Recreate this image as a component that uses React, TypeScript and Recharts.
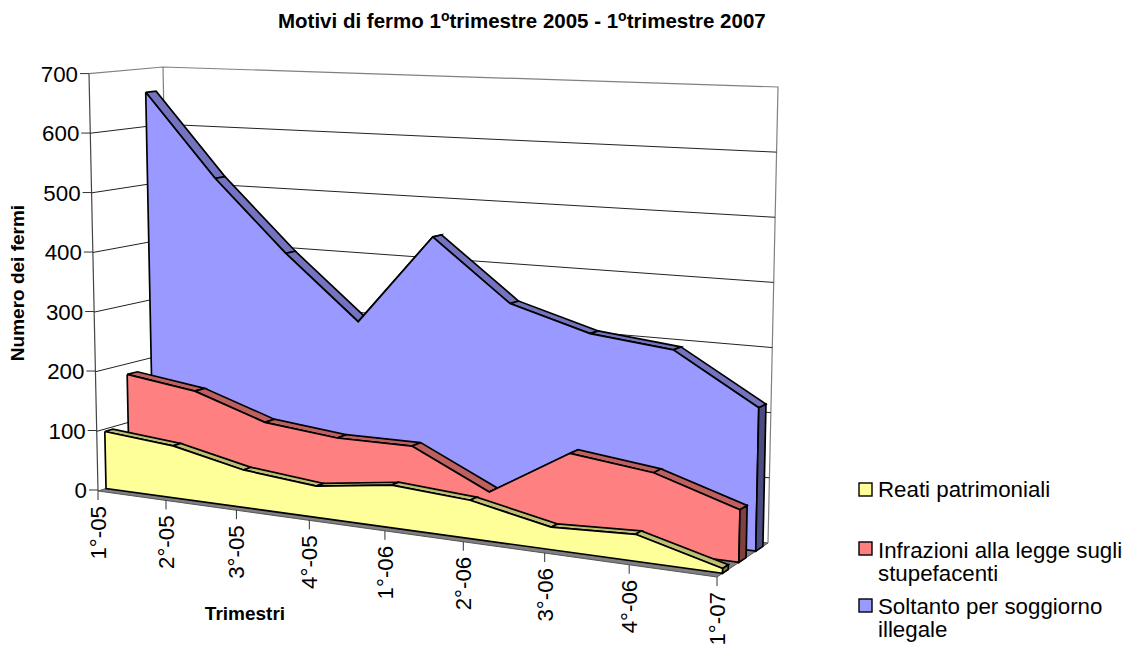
import { Area, ComposedChart, Line, XAxis, YAxis } from "recharts";

const categories = ["1°-05", "2°-05", "3°-05", "4°-05", "1°-06", "2°-06", "3°-06", "4°-06", "1°-07"];
const reati = [96, 86, 61, 50, 67, 59, 34, 40, 7];
const infrazioni = [182, 166, 127, 115, 116, 58, 133, 118, 78];
const soggiorno = [659, 517, 398, 294, 442, 344, 307, 293, 217];
const valueTicks = [0, 100, 200, 300, 400, 500, 600, 700];

const WIDTH = 1129;
const HEIGHT = 645;
const FONT = "'Liberation Sans', Arial, sans-serif";
const MAX = 700;

// Screen corners of the 3D box (Excel's perspective), floor and v=700 plane.
const FLOOR = { fl: [98, 491], fr: [717, 577], bl: [171, 468], br: [768, 543] };
const TOP = { fl: [89, 73.6], fr: [726, 93], bl: [163, 67], br: [778, 87] };
const LAST = categories.length - 1;
const SHRINK = -0.017; // spacing between categories grows towards the viewer

type Pt = { x: number; y: number };
type Row = { x: number; range: [number, number] };

const mix = (a: number, b: number, t: number) => a + (b - a) * t;

// category index + depth (0 front, 1 back) + value => pixel position
function project(i: number, d: number, v: number): Pt {
  const u = (i / LAST) * ((1 + SHRINK * LAST) / (1 + SHRINK * i));
  const corner = (q: typeof FLOOR, k: 0 | 1) =>
    mix(mix(q.fl[k], q.fr[k], u), mix(q.bl[k], q.br[k], u), d);
  const t = v / MAX;
  return {
    x: mix(corner(FLOOR, 0), corner(TOP, 0), t),
    y: mix(corner(FLOOR, 1), corner(TOP, 1), t),
  };
}

// Area wants x + [low, high], so slice the polygon at every vertex x.
function toRows(poly: Pt[]): Row[] {
  const xs = Array.from(new Set(poly.map((p) => p.x))).sort((a, b) => a - b);
  return xs.map((x) => {
    const hits: number[] = [];
    poly.forEach((a, n) => {
      const b = poly[(n + 1) % poly.length];
      if (a.x === b.x) {
        if (a.x === x) hits.push(a.y, b.y);
      } else if (x >= Math.min(a.x, b.x) && x <= Math.max(a.x, b.x)) {
        hits.push(mix(a.y, b.y, (x - a.x) / (b.x - a.x)));
      }
    });
    return { x, range: [Math.min(...hits), Math.max(...hits)] as [number, number] };
  });
}

type Face = { id: string; poly: Pt[]; fill: string; stroke: string; width: number };

function seriesFaces(id: string, values: number[], front: number, back: number, colors: string[]): Face[] {
  const ribbons = values.slice(0, -1).map((v, i) => ({
    id: `${id}-top-${i}`,
    poly: [project(i, front, v), project(i + 1, front, values[i + 1]), project(i + 1, back, values[i + 1]), project(i, back, v)],
    fill: colors[1],
    stroke: "#000",
    width: 1.7,
  }));
  const face = {
    id: `${id}-face`,
    poly: [...values.map((v, i) => project(i, front, v)), project(LAST, front, 0), project(0, front, 0)],
    fill: colors[0],
    stroke: "#000",
    width: 1.7,
  };
  const cap = {
    id: `${id}-cap`,
    poly: [project(LAST, front, values[LAST]), project(LAST, back, values[LAST]), project(LAST, back, 0), project(LAST, front, 0)],
    fill: colors[2],
    stroke: "#000",
    width: 1.7,
  };
  return [...ribbons, face, cap];
}

const faces: Face[] = [
  { id: "floor", poly: [project(0, 0, 0), project(LAST, 0, 0), project(LAST, 1, 0), project(0, 1, 0)], fill: "#808080", stroke: "#555", width: 1 },
  ...seriesFaces("soggiorno", soggiorno, 0.76, 0.9, ["#9999ff", "#7373bf", "#4c4c80"]),
  ...seriesFaces("infrazioni", infrazioni, 0.43, 0.57, ["#ff8080", "#bf6060", "#804040"]),
  ...seriesFaces("reati", reati, 0.11, 0.22, ["#ffff99", "#bfbf73", "#808050"]),
];

const gridRows = valueTicks
  .filter((v) => v > 0 && v < MAX)
  .map((v) => [project(0, 0, v), project(0, 1, v), project(LAST, 1, v)]);

const wallRows = [
  [project(0, 0, 0), project(0, 0, MAX)],
  [project(0, 0, MAX), project(0, 1, MAX), project(LAST, 1, MAX), project(LAST, 1, 0)],
  [project(0, 1, MAX), project(0, 1, 0)],
];

const xTicks = categories.map((_, i) => project(i, 0, 0).x);

function ValueTick({ y, payload }: any) {
  const wall = project(0, 0, payload.value);
  return (
    <g>
      <line x1={wall.x - 9} x2={wall.x} y1={y} y2={y} stroke="#333" />
      <text x={wall.x - 11} y={y + 8} textAnchor="end" fontSize={22.3} fontFamily={FONT} fill="#000">
        {payload.value}
      </text>
    </g>
  );
}

function CategoryTick({ index }: any) {
  const p = project(index, 0, 0);
  return (
    <g>
      <line x1={p.x} x2={p.x} y1={p.y} y2={p.y + 9} stroke="#333" />
      <text
        transform={`translate(${p.x + 8} ${p.y + 15}) rotate(-90)`}
        textAnchor="end"
        fontSize={22.3}
        fontFamily={FONT}
        fill="#000"
      >
        {categories[index]}
      </text>
    </g>
  );
}

const legend = [
  { box: 483, fill: "#ffff99", lines: [{ text: "Reati patrimoniali", y: 497 }] },
  { box: 542, fill: "#ff8080", lines: [{ text: "Infrazioni alla legge sugli", y: 558 }, { text: "stupefacenti", y: 581 }] },
  { box: 599, fill: "#9999ff", lines: [{ text: "Soltanto per soggiorno", y: 614 }, { text: "illegale", y: 637 }] },
];

export default function App() {
  let z = 1;
  return (
    <div style={{ position: "absolute", left: 0, top: 0, width: WIDTH, height: HEIGHT }}>
      <ComposedChart width={WIDTH} height={HEIGHT} margin={{ top: 0, right: 0, bottom: 0, left: 0 }}>
        <XAxis
          type="number"
          dataKey="x"
          domain={[1, WIDTH]}
          ticks={xTicks}
          interval={0}
          height={1}
          axisLine={false}
          tickLine={false}
          tick={<CategoryTick />}
        />
        {/* real value axis, stretched so 0 and 700 land on the left wall */}
        <YAxis
          yAxisId="value"
          type="number"
          domain={[-258.9, 823.7]}
          allowDataOverflow
          ticks={valueTicks}
          interval={0}
          width={1}
          axisLine={false}
          tickLine={false}
          tick={<ValueTick />}
        />
        <YAxis yAxisId="screen" type="number" domain={[0, HEIGHT - 1]} reversed hide />

        {wallRows.map((pts, n) => (
          <Line key={`wall-${n}`} zIndex={z++} yAxisId="screen" data={pts} dataKey="y" stroke={n === 0 ? "#444" : "#808080"} strokeWidth={1.2} dot={false} activeDot={false} isAnimationActive={false} />
        ))}
        {gridRows.map((pts, n) => (
          <Line key={`grid-${n}`} zIndex={z++} yAxisId="screen" data={pts} dataKey="y" stroke="#222" strokeWidth={1} dot={false} activeDot={false} isAnimationActive={false} />
        ))}
        {faces.flatMap((f) => [
          <Area key={`${f.id}-fill`} zIndex={z++} yAxisId="screen" type="linear" data={toRows(f.poly)} dataKey="range" stroke="none" fill={f.fill} fillOpacity={1} dot={false} activeDot={false} isAnimationActive={false} />,
          <Line key={`${f.id}-edge`} zIndex={z++} yAxisId="screen" type="linear" data={[...f.poly, f.poly[0]]} dataKey="y" stroke={f.stroke} strokeWidth={f.width} dot={false} activeDot={false} isAnimationActive={false} />,
        ])}

        <text x={278} y={28} fontSize={20.5} fontWeight="bold" fontFamily={FONT} fill="#000">
          Motivi di fermo 1<tspan dy={-7} fontSize={14}>o</tspan>
          <tspan dy={7}>trimestre 2005 - 1</tspan>
          <tspan dy={-7} fontSize={14}>o</tspan>
          <tspan dy={7}>trimestre 2007</tspan>
        </text>
        <text transform="translate(24 283) rotate(-90)" textAnchor="middle" fontSize={19} fontWeight="bold" fontFamily={FONT} fill="#000">
          Numero dei fermi
        </text>
        <text x={245} y={620} textAnchor="middle" fontSize={19} fontWeight="bold" fontFamily={FONT} fill="#000">
          Trimestri
        </text>
        {legend.map((item) => (
          <g key={item.box}>
            <rect x={859} y={item.box} width={13} height={13} fill={item.fill} stroke="#000" strokeWidth={1.4} />
            {item.lines.map((l) => (
              <text key={l.text} x={878} y={l.y} fontSize={22.3} fontFamily={FONT} fill="#000">
                {l.text}
              </text>
            ))}
          </g>
        ))}
      </ComposedChart>
    </div>
  );
}
